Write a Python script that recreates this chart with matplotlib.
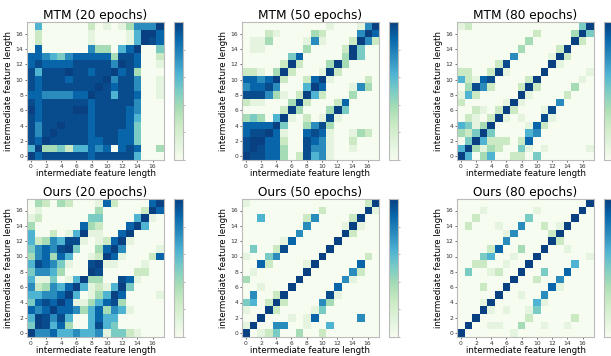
import numpy as np
import matplotlib
matplotlib.use("Agg")
import matplotlib.pyplot as plt

# similarity levels, 0 (lightest) .. 9 (darkest)
# each string is one row, top row (17) first, columns 0..17 left to right
mtm_20 = [
    "050000002010136669",
    "020000001000015997",
    "020000001000015987",
    "070000006330579004",
    "776546777773887002",
    "787777888886987001",
    "858889887889783000",
    "878887888896886001",
    "878888888987886001",
    "776666779885887001",
    "878888887888886000",
    "978888997888876000",
    "878888887888875000",
    "868898887888874000",
    "868988887888774000",
    "879888887788774000",
    "593342557670787003",
    "978888887888885000",
]
mtm_50 = [
    "000000000001000169",
    "000210000320000697",
    "011300001610002962",
    "011000003000029400",
    "000000470000039400",
    "000002920003930000",
    "221039200019200000",
    "776792002791000020",
    "677860005970001630",
    "888631029520003000",
    "211000392000270000",
    "000002930003940000",
    "343059102018100000",
    "777794003683000000",
    "788971007871001320",
    "899772008761002000",
    "898773008661001000",
    "988773028561000000",
]
mtm_80 = [
    "120000000000000049",
    "000000000020000394",
    "000000000300000920",
    "000000003000029000",
    "000000060000192000",
    "000002800000910000",
    "220029100009000001",
    "521780000290000010",
    "038620002920000300",
    "152000009100002000",
    "200000191000060000",
    "002102920001800000",
    "021029101008100000",
    "541390000172000000",
    "324940000560000000",
    "049522202700000000",
    "593132004101000001",
    "950350022040000000",
]
ours_20 = [
    "032032000172000079",
    "010000000300000297",
    "120000004400005910",
    "300000073200079500",
    "500201591100790000",
    "523658810127910000",
    "467689400379600001",
    "367375001297100027",
    "587641008911000100",
    "466530009800002200",
    "511401593300871000",
    "623657951215940000",
    "556679501359700001",
    "478797113578300000",
    "767977635736510000",
    "598685005755000000",
    "498573005854000000",
    "966755655614421000",
]
ours_50 = [
    "100000000000000029",
    "000000000020000091",
    "005000002600002900",
    "000000006000019100",
    "000000060000092000",
    "000001700000900000",
    "040028000009000000",
    "100460000090000020",
    "007200001900000700",
    "010000009000006200",
    "300000090000061000",
    "001000900000700000",
    "060029000008100000",
    "450292000063000000",
    "100920000140000000",
    "009000101700000600",
    "190066001005000000",
    "901240030020000000",
]
ours_80 = [
    "000000000000000009",
    "000100000010000090",
    "002000000400000900",
    "020001006002019000",
    "000000160000290000",
    "000000600000920000",
    "000027003009001000",
    "000450010090000001",
    "002200100900000500",
    "040012009004007000",
    "000000090020060000",
    "000200900000710000",
    "000009001006000000",
    "000190000051000000",
    "000910100140000000",
    "009000000200000200",
    "090011003001001000",
    "900000010000000000",
]

titles = ["MTM (20 epochs)", "MTM (50 epochs)", "MTM (80 epochs)",
          "Ours (20 epochs)", "Ours (50 epochs)", "Ours (80 epochs)"]
matrices = [mtm_20, mtm_50, mtm_80, ours_20, ours_50, ours_80]
tick_pos = list(range(0, 18, 2))

# level -> position on the GnBu colour scale
shade = np.array([0.0, 0.1, 0.25, 0.38, 0.5, 0.62, 0.75, 0.88, 0.96, 1.0])

W, H = 611, 356
fig = plt.figure(figsize=(W / 100, H / 100), dpi=100)

col_x = [27, 242, 457]
row_y = [22, 199]   # top edge of heatmap, pixels from top
size_w, size_h = 137, 138

for k, (mat, title) in enumerate(zip(matrices, titles)):
    r, c = divmod(k, 3)
    x0, y0 = col_x[c], row_y[r]
    ax = fig.add_axes([x0 / W, (H - y0 - size_h) / H, size_w / W, size_h / H])
    levels = np.array([[int(ch) for ch in row] for row in mat[::-1]])
    im = ax.imshow(shade[levels], cmap="GnBu", vmin=0, vmax=1, origin="lower",
                   aspect="auto", interpolation="nearest")
    ax.set_xticks(tick_pos)
    ax.set_yticks(tick_pos)
    ax.tick_params(labelsize=4.3, length=1.5, width=0.5, pad=1.2,
                   colors="#333333")
    for s in ax.spines.values():
        s.set_color("#bbbbbb")
        s.set_linewidth(0.8)
    ax.set_title(title, fontsize=8.7, pad=2)
    ax.set_xlabel("intermediate feature length", fontsize=6.2, labelpad=0)
    ax.set_ylabel("intermediate feature length", fontsize=6.2, labelpad=2)

    cax = fig.add_axes([(x0 + 147) / W, (H - y0 - size_h) / H, 9 / W, size_h / H])
    cb = fig.colorbar(im, cax=cax)
    cb.set_ticks([0, 0.2, 0.4, 0.6, 0.8])
    cb.ax.set_yticklabels([])
    cb.ax.tick_params(length=1.5, width=0.5, colors="#999999")
    cb.outline.set_edgecolor("#bbbbbb")
    cb.outline.set_linewidth(0.8)

fig.savefig("out.png", dpi=100)
